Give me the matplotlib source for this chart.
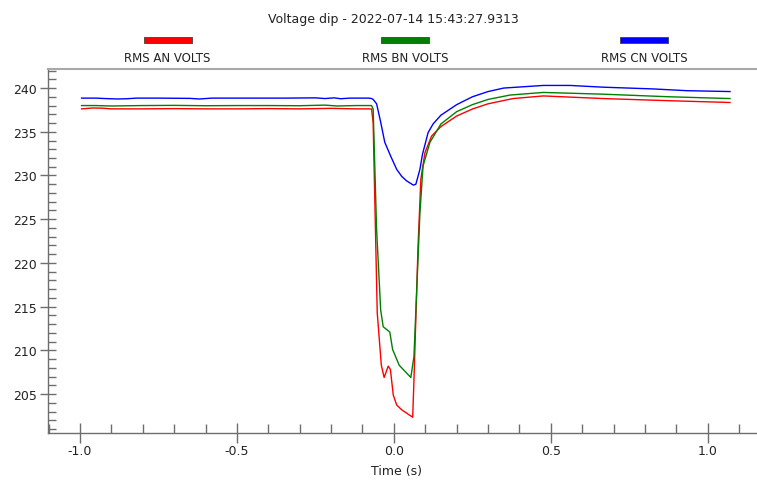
import matplotlib

matplotlib.use("Agg")
import matplotlib.pyplot as plt
from matplotlib.patches import Rectangle
from matplotlib.ticker import MultipleLocator, FormatStrFormatter

title = "Voltage dip - 2022-07-14 15:43:27.9313"
series_names = ["RMS AN VOLTS", "RMS BN VOLTS", "RMS CN VOLTS"]
series_colors = ["#ff0000", "#008000", "#0000ff"]

# phase A
t_an = [-0.995, -0.96, -0.93, -0.9, -0.8, -0.7, -0.6, -0.5, -0.4, -0.3, -0.2, -0.12, -0.08,
        -0.071, -0.066, -0.053, -0.040, -0.031, -0.018, -0.011, -0.002, 0.009, 0.025,
        0.060, 0.064, 0.077, 0.086, 0.099, 0.12, 0.15, 0.2, 0.25, 0.3, 0.38,
        0.476, 0.667, 0.880, 1.071]
v_an = [237.62, 237.72, 237.70, 237.62, 237.62, 237.65, 237.62, 237.62, 237.65, 237.62, 237.68,
        237.62, 237.62,
        237.60, 236.0, 214.3, 208.3, 206.9, 208.2, 207.8, 204.9, 203.75, 203.2,
        202.35, 206.6, 221.9, 229.6, 232.6, 234.5, 235.6, 236.8, 237.6, 238.2, 238.8,
        239.1, 238.8, 238.55, 238.35]

# phase B
t_bn = [-0.995, -0.95, -0.9, -0.8, -0.7, -0.6, -0.5, -0.4, -0.3, -0.22, -0.18, -0.12, -0.08,
        -0.071, -0.066, -0.055, -0.042, -0.034, -0.013, -0.004, 0.017, 0.054, 0.064,
        0.083, 0.093, 0.115, 0.15, 0.2, 0.25, 0.3, 0.37, 0.476, 0.667,
        0.880, 1.071]
v_bn = [238.0, 238.0, 237.95, 238.0, 238.02, 237.98, 238.0, 238.0, 237.98, 238.05, 237.95,
        238.0, 238.0,
        238.0, 237.6, 223.8, 214.6, 212.7, 212.1, 210.1, 208.3, 206.9, 209.3,
        225.7, 231.1, 233.8, 235.9, 237.3, 238.1, 238.7, 239.2, 239.5, 239.3,
        239.0, 238.8]

# phase C
t_cn = [-0.995, -0.95, -0.92, -0.88, -0.85, -0.82, -0.75, -0.65, -0.62, -0.58, -0.45, -0.35,
        -0.25, -0.22, -0.19, -0.17, -0.14, -0.08,
        -0.071, -0.066, -0.055, -0.042, -0.029, -0.010, 0.009, 0.025, 0.040, 0.062,
        0.070, 0.083, 0.091, 0.109, 0.125, 0.15, 0.2, 0.25, 0.3, 0.35,
        0.476, 0.561, 0.667, 0.827, 0.933, 1.071]
v_cn = [238.85, 238.85, 238.80, 238.75, 238.78, 238.85, 238.85, 238.82, 238.75, 238.85,
        238.85, 238.85, 238.88, 238.80, 238.88, 238.78, 238.85, 238.85,
        238.8, 238.7, 238.2, 236.1, 233.8, 232.2, 230.7, 229.9, 229.4, 228.9,
        229.0, 230.7, 232.4, 234.9, 235.9, 236.9, 238.1, 239.0, 239.6, 240.0,
        240.3, 240.3, 240.1, 239.9, 239.7, 239.6]

plt.rcParams["axes.unicode_minus"] = False
plt.rcParams["font.family"] = "DejaVu Sans"

W, H = 757, 481
fig = plt.figure(figsize=(W / 100, H / 100), dpi=100)
ax = fig.add_axes([48 / W, 1 - 434 / H, (757 - 48) / W, (434 - 70) / H])

for t, v, c in zip([t_an, t_bn, t_cn], [v_an, v_bn, v_cn], series_colors):
    ax.plot(t, v, color=c, lw=1.0)

ax.set_xlim(-1.102, 1.157)
ax.set_ylim(200.55, 242.18)

axis_grey = "#6e6e6e"
ax.spines["right"].set_visible(False)
ax.spines["top"].set_color("#a8a8a8")
ax.spines["top"].set_linewidth(1.5)
for s in ("left", "bottom"):
    ax.spines[s].set_color(axis_grey)
    ax.spines[s].set_linewidth(1.0)

ax.xaxis.set_major_locator(MultipleLocator(0.5))
ax.xaxis.set_minor_locator(MultipleLocator(0.1))
ax.xaxis.set_major_formatter(FormatStrFormatter("%.1f"))
ax.yaxis.set_major_locator(MultipleLocator(5))
ax.yaxis.set_minor_locator(MultipleLocator(1))
ax.set_yticks(range(205, 241, 5))

ax.tick_params(axis="y", which="major", direction="inout", length=11.5, width=1.0,
               color=axis_grey, labelsize=9, labelcolor="#222222", pad=2)
ax.tick_params(axis="y", which="minor", direction="in", length=5.8, width=1.0, color=axis_grey)
ax.tick_params(axis="x", which="major", direction="inout", length=14, width=1.0,
               color=axis_grey, labelsize=9, labelcolor="#222222", pad=1)
ax.tick_params(axis="x", which="minor", direction="in", length=6.5, width=1.0, color=axis_grey)
ax.tick_params(top=False, right=False, which="both")

ax.set_xlabel("Time (s)", fontsize=9, color="#222222", labelpad=2)
ax.xaxis.set_label_coords(0.492, -0.085)

fig.text(393 / W, 1 - 19 / H, title, ha="center", va="center", fontsize=9, color="#222222")

# legend row above the plot
legend_x = [167.5, 405, 644]
for name, c, x in zip(series_names, series_colors, legend_x):
    fig.patches.append(Rectangle(((x - 24) / W, 1 - 44 / H), 48 / W, 6 / H,
                                 transform=fig.transFigure, facecolor=c,
                                 edgecolor="#404040", lw=0.6))
    fig.text(x / W, 1 - 59 / H, name, ha="center", va="center", fontsize=8.5, color="#222222")

fig.savefig("out.png", dpi=100)
